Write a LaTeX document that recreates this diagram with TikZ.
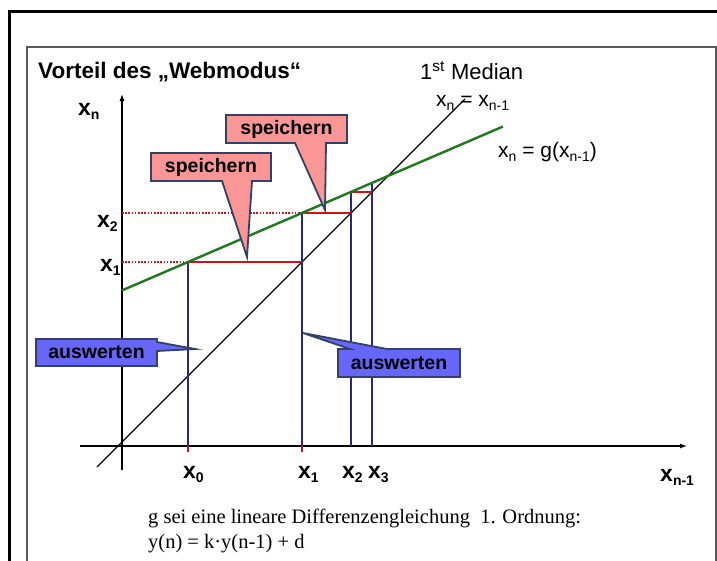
\documentclass[tikz,border=0pt]{standalone}
\usepackage{fontspec}
\setmainfont{Liberation Sans}
\newfontfamily\serifrm{Liberation Serif}
\usetikzlibrary{arrows.meta}
\definecolor{pinkfill}{RGB}{250,150,150}
\definecolor{bluefill}{RGB}{102,102,250}
\definecolor{calloutborder}{RGB}{50,65,100}
\definecolor{gline}{RGB}{30,120,30}
\definecolor{navyline}{RGB}{40,40,130}
\definecolor{redline}{RGB}{205,20,20}
\newcommand\bxsub[1]{\textbf{x}\raisebox{-4pt}{\fontsize{14}{14}\selectfont\textbf{#1}}}
\newcommand\rxsub[1]{x\raisebox{-4pt}{\fontsize{14}{14}\selectfont #1}}
\tikzset{
  axislbl/.style={inner sep=0pt, anchor=base west, font=\fontsize{23}{23}\selectfont\bfseries},
  plainlbl/.style={inner sep=0pt, anchor=base west, font=\fontsize{21}{21}\selectfont},
  calltext/.style={inner sep=0pt, font=\fontsize{19.5}{19.5}\selectfont\bfseries},
  pinkcall/.style={fill=pinkfill, draw=calloutborder, line width=1.8pt, line join=miter},
  bluecall/.style={fill=bluefill, draw=calloutborder, line width=1.8pt, line join=miter},
  navy/.style={draw=navyline, line width=1.4pt},
  redh/.style={draw=redline, line width=1.3pt},
  reddot/.style={draw=redline, line width=1.6pt, dash pattern=on 1.6pt off 1.6pt},
}
\begin{document}
\begin{tikzpicture}[x=1pt,y=-1pt]
\useasboundingbox (0,0) rectangle (717,560);
\fill[white] (0,0) rectangle (717,560);
% frames
\draw[line width=3pt] (9.5,575) -- (9.5,11) -- (730,11);
\draw[line width=1.5pt, black!65] (27,575) -- (27,47) -- (716,47) -- (716,575);
% title texts
\node[inner sep=0pt, anchor=base west, font=\fontsize{22.5}{22.5}\selectfont\bfseries] (title) at (38,78) {Vorteil des „Webmodus“};
\node[inner sep=0pt, anchor=base west, font=\fontsize{22}{22}\selectfont] (median) at (420,79) {1\textsuperscript{st} Median};
\node[plainlbl] (eqmed) at (436,106) {\rxsub{n} = \rxsub{n-1}};
\node[plainlbl] (eqg) at (498,157) {\rxsub{n} = g(\rxsub{n-1})};
% key coordinates
\coordinate (O) at (122,446);
\coordinate (ytop) at (122,94);
\coordinate (ybot) at (122,470);
\coordinate (xleft) at (80,446);
\coordinate (xright) at (687,446);
\coordinate (mA) at (97,467);
\coordinate (mB) at (465,99);
\coordinate (gA) at (122,290.4);
\coordinate (gB) at (503,126.5);
% axes
\draw[line width=1.1pt, -{Latex[length=7pt,width=5pt]}] (ybot) -- (ytop);
\draw[line width=1.1pt, -{Latex[length=7pt,width=5pt]}] (xleft) -- (xright);
% dotted red guides
\draw[reddot] (122,262) -- (188,262);
\draw[reddot] (122,213) -- (302,213);
% median
\draw[line width=1.1pt] (mA) -- (mB);
% verticals
\draw[navy] (188,446) -- (188,262);
\draw[navy] (302,446) -- (302,213);
\draw[navy] (351,446) -- (351,192);
\draw[navy] (372,446) -- (372,183);
% red horizontals
\draw[redh] (188,262) -- (302,262);
\draw[redh] (302,213) -- (351,213);
\draw[redh] (351,192) -- (372,192);
% red ticks
\draw[redh, line width=1.6pt] (188,446) -- (188,452);
\draw[redh, line width=1.6pt] (302,446) -- (302,452);
% green line
\draw[draw=gline, line width=2.4pt] (gA) -- (gB);
% callouts
\draw[pinkcall] (151,153) -- (271,153) -- (271,181) -- (252,181) -- (247,257) -- (222,181) -- (151,181) -- cycle;
\node[calltext] (sp1) at (211,167) {speichern};
\draw[pinkcall] (226,115) -- (347,115) -- (347,143) -- (326,143) -- (325,210) -- (295,143) -- (226,143) -- cycle;
\node[calltext] (sp2) at (286.5,129) {speichern};
\draw[bluecall] (36,339) -- (157,339) -- (157,342) -- (195,349) -- (157,351) -- (157,366) -- (36,366) -- cycle;
\node[calltext] (aw1) at (96.5,352.5) {auswerten};
\draw[bluecall] (338,349) -- (350,349) -- (303,333) -- (387,349) -- (460,349) -- (460,377) -- (338,377) -- cycle;
\node[calltext] (aw2) at (399,363) {auswerten};
% axis labels
\node[axislbl] (lxn) at (78,115) {\bxsub{n}};
\node[axislbl] (lx2) at (97,227) {\bxsub{2}};
\node[axislbl] (lx1) at (100,271) {\bxsub{1}};
\node[axislbl] (ax0) at (183,478) {\bxsub{0}};
\node[axislbl] (ax1) at (298,478) {\bxsub{1}};
\node[axislbl] (ax2) at (342,478) {\bxsub{2}};
\node[axislbl] (ax3) at (368,478) {\bxsub{3}};
\node[axislbl] (axn) at (660,481) {\bxsub{n-1}};
% bottom text
\node[inner sep=0pt, anchor=base west, font=\serifrm\fontsize{20.5}{20.5}\selectfont] (txt1) at (148,523) {g sei eine lineare Differenzengleichung\ \ 1. Ordnung:};
\node[inner sep=0pt, anchor=base west, font=\serifrm\fontsize{20.5}{20.5}\selectfont] (txt2) at (148,548) {y(n) = k\textperiodcentered y(n-1) + d};
\end{tikzpicture}
\end{document}
